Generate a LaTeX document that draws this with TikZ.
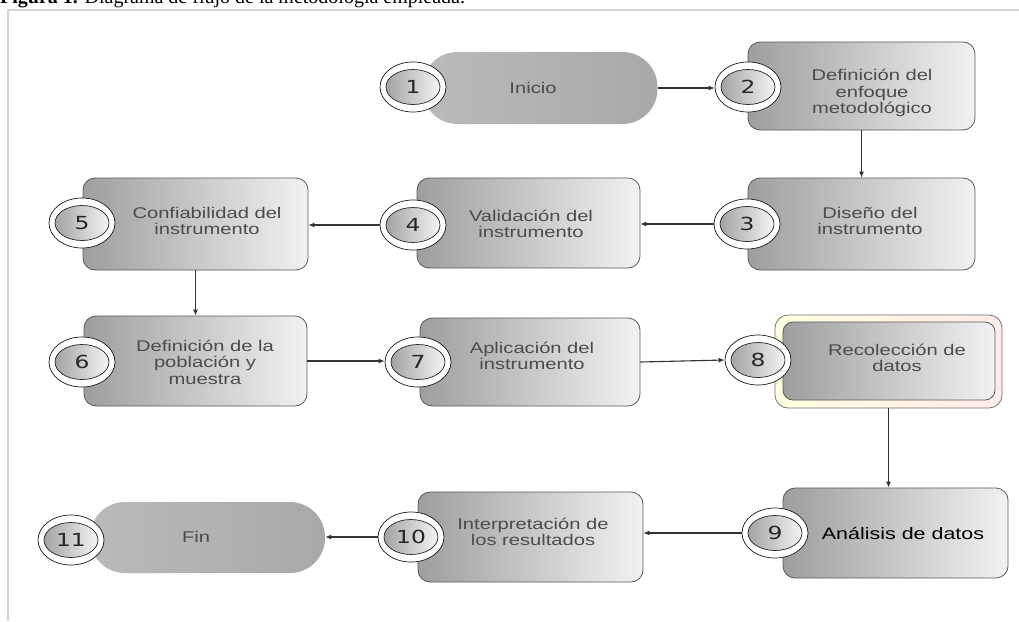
\documentclass[tikz,border=0pt]{standalone}
\usepackage{fontspec}
\setmainfont[FakeStretch=1.3]{Liberation Sans}
\newfontfamily\capfont{Liberation Serif}
\newfontfamily\numfont[FakeStretch=1.3]{DejaVu Sans}
\usetikzlibrary{shapes.geometric,arrows.meta}
\begin{document}
\begin{tikzpicture}[x=1pt,y=-1pt,
  box/.style={draw=black!65, line width=0.8pt, rounded corners=12pt, left color=black!38, right color=black!5, inner sep=0pt},
  stad/.style={rounded corners=35pt, left color=black!27, right color=black!34, inner sep=0pt},
  ring/.style={ellipse, draw=black!90, line width=0.7pt, fill=white, minimum width=66pt, minimum height=50pt, inner sep=0pt},
  num/.style={ellipse, draw=black!85, line width=0.7pt, left color=black!36, right color=black!4, minimum width=54pt, minimum height=35pt, inner sep=0pt, font=\numfont\fontsize{18}{18}\selectfont, text=black!85},
  lbl/.style={align=center, font=\fontsize{15.5}{16.5}\selectfont, text=black!70, inner sep=0pt},
  arr/.style={-{Latex[length=6pt,width=5pt]}, line width=1.1pt, draw=black!80},
  frame/.style={draw=black!17, line width=2pt}
]
\useasboundingbox (0,0) rectangle (1019,621);
\clip (0,0) rectangle (1019,621);
\fill[white] (0,0) rectangle (1019,621);
% caption (cut off at the top, as in the reference)
\node[anchor=base west, inner sep=0pt, font=\capfont\fontsize{20}{20}\selectfont] (cap) at (0,4) {\textbf{Figura 1.} Diagrama de flujo de la metodología empleada.};
% frame
\coordinate (fA) at (1019,10);
\coordinate (fB) at (8,10);
\coordinate (fC) at (8,621);
\draw[frame] (fA) -- (fB) -- (fC);
% boxes
\node[stad, minimum width=235, minimum height=72] (b1) at (540,88) {};
\node[box, minimum width=227, minimum height=88] (b2) at (861.5,86) {};
\node[box, minimum width=227, minimum height=92] (b3) at (861.5,224) {};
\node[box, minimum width=223, minimum height=90] (b4) at (528.5,223) {};
\node[box, minimum width=225, minimum height=92] (b5) at (195.5,224) {};
\node[box, minimum width=223, minimum height=90] (b6) at (195.5,361) {};
\node[box, minimum width=220, minimum height=88] (b7) at (530,362) {};
\node[draw=black!55, line width=0.8pt, rounded corners=13pt, left color=yellow!12, right color=red!8, minimum width=227, minimum height=93, inner sep=0pt] (b8o) at (888.5,361.5) {};
\node[box, rounded corners=10pt, minimum width=212, minimum height=78] (b8) at (889,361) {};
\node[box, minimum width=225, minimum height=90] (b9) at (895.5,533) {};
\node[box, minimum width=225, minimum height=90] (b10) at (530.5,537) {};
\node[stad, minimum width=235, minimum height=71] (b11) at (207.5,537.5) {};
% texts
\node[lbl] (t1) at (533,88) {Inicio};
\node[lbl] (t2) at (872,93) {Definición del\\enfoque\\metodológico};
\node[lbl] (t3) at (870,221) {Diseño del\\instrumento};
\node[lbl] (t4) at (531,224) {Validación del\\instrumento};
\node[lbl] (t5) at (207,221) {Confiabilidad del\\instrumento};
\node[lbl] (t6) at (205,362) {Definición de la\\población y\\muestra};
\node[lbl] (t7) at (532,356) {Aplicación del\\instrumento};
\node[lbl] (t8) at (897,358) {Recolección de\\datos};
\node[lbl, text=black, font=\fontsize{16.5}{18}\selectfont] (t9) at (903,533) {Análisis de datos};
\node[lbl] (t10) at (533,532) {Interpretación de\\los resultados};
\node[lbl] (t11) at (196,537) {Fin};
% numbered circles
\foreach \i/\x/\y in {1/413/87, 2/748/87, 3/747/224, 4/413/225, 5/82/223, 6/82/362, 7/418/362, 8/758/360, 9/775/533, 10/411/537, 11/71/540}{
  \node[ring] (c\i) at (\x,\y) {};
  \node[num] (n\i) at (\x,\y) {\i};
}
% connectors
\draw[arr] (b1.east) -- (b1.east -| c2.west);
\draw[arr] (b2.south) -- (b3.north);
\draw[arr] (c3.west) -- (c3.west -| b4.east);
\draw[arr] (c4.west) -- (c4.west -| b5.east);
\draw[arr] (b5.south) -- (b6.north);
\draw[arr] (b6.east) -- (b6.east -| c7.west);
\draw[arr] (b7.east) -- (c8.west);
\draw[arr] (b8o.south) -- (b8o.south |- b9.north);
\draw[arr] (c9.west) -- (c9.west -| b10.east);
\draw[arr] (c10.west) -- (c10.west -| b11.east);
\end{tikzpicture}
\end{document}
